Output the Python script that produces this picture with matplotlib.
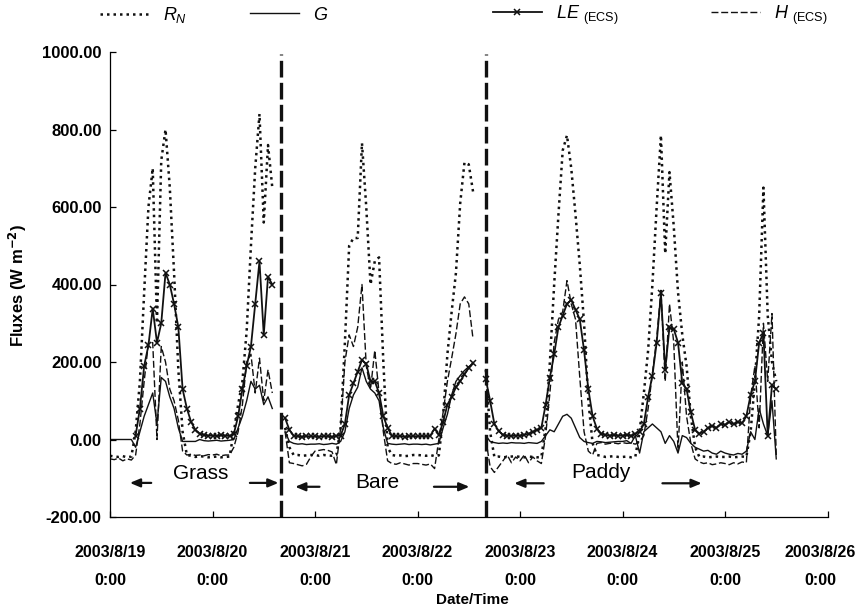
import numpy as np
import pandas as pd
import matplotlib
matplotlib.use("Agg")
import matplotlib.pyplot as plt
import matplotlib.dates as mdates
import matplotlib.transforms as mtransforms
from matplotlib.ticker import FuncFormatter

plt.rcParams['font.family'] = ['Liberation Sans', 'DejaVu Sans']
plt.rcParams['mathtext.fontset'] = 'custom'
plt.rcParams['mathtext.it'] = 'Liberation Sans:italic'
plt.rcParams['mathtext.rm'] = 'Liberation Sans'

nan = np.nan

# hourly fluxes (W m-2) from 2003/8/19 0:00, one row per day
rn = [-42,-44,-45,-43,-46,-44, 20,150,380,600,700,300,720,800,650,430,180,20, -40,-42,-45,-43,-44,-46,
      -45,-44,-46,-45,-44, 20,90,150,280,500,700,840,560,760,650, nan,nan, 30,-20,-40,-40,-42,-41,-40,
      -40,-42,-40,-41,-42,-40,30, 250,500,520,520,765,600,400,460,470,200,-20, -40,-42,-41,-43,-42,-40,
      -40,-41,-42,-40,-43,-41,60, 220,330,430,610,715,710,640, nan,nan, 180,20, -45,-44,-46,-45,-44,-43,
      -45,-46,-44,-45,-46,-45, 30,200,400,580,746,785,700,580,450,300,100,-10, -40,-42,-45,-44,-43,-45,
      -45,-44,-46,-45, 20,120,230,400,600,785,480,690,550,380,270,190,60,-20, -45,-44,-46,-45,-44,-45,
      -45,-44,-46,-45,-44,-45, 20,150,320,650,320,200,150]

g = [0,0,0,0,0,0, -20,20,60,90,120,40,160,150,110,80,30,-5, -5,-5,-5,0,-3,-4,
     -3,-2,-4,-3,-2, 0,30,60,100,150,130,140,90,110,80, nan,nan, 20,-5,-10,-12,-11,-13,-12,
     -12,-11,-13,-12,-10,-12,-5, 20,80,115,135,185,150,130,120,100,30,-10, -12,-13,-12,-11,-13,-12,
     -12,-13,-12,-14,-12,-10, 30,65,115,150,165,178,188,195, nan,nan, 10,-5, -8,-10,-9,-10,-8,-9,
     -9,-10,-8,-9,-10,-5, 10,25,20,40,60,65,55,30,5,-5,-8,-10, -5,-6,-8,-7,-6,-5,
     -5,-3,-10,10,-35,20,30,40,30,20,-10,10,-5,-35,10,5,-10,-20,-25,-30,-28,-35,-38,-30,
     -35,-38,-40,-36,-38,-30, 20,0,80,40,10,100,-50]

le = [nan,nan,nan,nan,nan,nan, 10,80,190,243,338,250,300,430,400,350,290,130,80,45,25,15,12,10,
      10,9,11,10,9, 15, 60,130,190,240,350,460,270,420,400, nan,nan, 55,25,10,8,7,9,8,
      8,7,9,8,7,9,10, 40,115,145,175,205,195,150,150,120,60,30,10, 8,9,7,8,9,
      8,9,8,10, 28, 12, 45,90,110,135,150,168,185,198, nan,nan, 155,100,40,22,12,10,9,10,
      10,12,15,20,25, 30, 90,160,220,290,320,350,360,335,310,230,130,60,28,15,12,10,12,10,
      10,12,10,15,20,40,110,165,250,377,180,290,285,250,145,130,70,25,15,20,30,35,30,40,
      38,45,40,45,42,60, 115,150,250,275,10,140,130]

h = [-50,-52,-48,-55,-50,-53, -40,40,150,250,250,0,240,200,130,100,50,-30, -40,-38,-41,-40,-42,-39,
     -40,-38,-42,-40,-40, -20, 20,90,200,220,120,210,100,180,120, nan,nan, 20,-60,-62,-65,-68,-64,-45,
     -30,-28,-26,-28,-32,-65, 30, 200,270,240,290,400,190,130,230,120,20,-55, -62,-64,-60,-63,-66,-62,
     -62,-64,-66,-63, -75, 0, 70,150,210,273,350,368,350,260, nan,nan, 0,-70, -85,-70,-55,-40,-60,-45,
     -55,-40,-60,-45,-55,-62, 10,120,250,310,330,410,350,310,160,20,-30,-40, -10,-8,-12,-10,-9,-11,
     -8,-10,-9,-12,-5,10,80,170,260,385,150,350,250,-30,200,60,-10,-50,-58,-62,-60,-65,-63,-60,
     -62,-65,-60,-63,-58,-60, 110,190,30,300,150,325,-40]

start = "2003-08-19 00:00"
site_changes = ["2003-08-20 16:00", "2003-08-22 16:00"]
sites = ["Grass", "Bare", "Paddy"]
# arrow spans (hours from start) and label positions for each site
site_label_hour = [21.3, 62.6, 115.0]
site_label_value = [-87, -110, -84]
arrow_left = [(10.3, 4.0), (49.7, 42.7), (102.2, 94.0)]
arrow_right = [(32.1, 40.1), (75.2, 84.8), (128.7, 139.2)]
arrow_value = [-112, -122, -113]

times = pd.date_range(start, periods=len(rn), freq="h")
t0 = pd.Timestamp(start)

fig = plt.figure(figsize=(8.57, 6.11), dpi=100)
ax = fig.add_axes([110/857, 94/611, 717.5/857, 465/611])

k = "#111111"
l_rn, = ax.plot(times, rn, color=k, lw=1.8, ls=(0, (1.0, 1.6)))
l_g, = ax.plot(times, g, color=k, lw=1.0)
l_le, = ax.plot(times, le, color=k, lw=1.3, marker="x", ms=5, mew=1.1)
l_h, = ax.plot(times, h, color=k, lw=1.0, ls=(0, (5, 2)))

for s in site_changes:
    ax.axvline(pd.Timestamp(s), ymin=0.0, ymax=0.995, color=k, lw=2.4, ls=(0, (5, 1.6)))

for name, hx, vy in zip(sites, site_label_hour, site_label_value):
    ax.text(t0 + pd.Timedelta(hours=hx), vy, name, fontsize=15, ha="center", va="center")
for (a, b), (c, d), vy in zip(arrow_left, arrow_right, arrow_value):
    for tail, head in ((a, b), (c, d)):
        ax.annotate("", xy=(t0 + pd.Timedelta(hours=head), vy),
                    xytext=(t0 + pd.Timedelta(hours=tail), vy),
                    arrowprops=dict(arrowstyle="-|>,head_length=0.6,head_width=0.25",
                                    color=k, lw=1.6))

ax.set_xlim(t0, t0 + pd.Timedelta(days=7))
ax.set_ylim(-200, 1000)
ax.set_yticks(np.arange(-200, 1001, 200))
ax.yaxis.set_major_formatter(FuncFormatter(lambda v, p: f"{v:.2f}"))
ax.xaxis.set_major_locator(mdates.DayLocator())

def fmt_date(x, pos):
    d = mdates.num2date(x)
    return f"{d.year}/{d.month}/{d.day}\n{d.hour}:{d.minute:02d}"

ax.xaxis.set_major_formatter(FuncFormatter(fmt_date))
for s in ["top", "right"]:
    ax.spines[s].set_visible(False)
for s in ["left", "bottom"]:
    ax.spines[s].set_linewidth(0.9)
ax.tick_params(direction="in", length=4, width=0.9)
ax.tick_params(axis="y", pad=6, labelsize=12)
ax.tick_params(axis="x", pad=20, labelsize=11.5)
for lab in ax.get_yticklabels():
    lab.set_fontweight("bold")
xlabels = ax.get_xticklabels()
for lab in xlabels:
    lab.set_fontweight("bold")
    lab.set_linespacing(2.1)
# keep the last date label inside the figure
shift = mtransforms.ScaledTranslation(-7/100, 0, fig.dpi_scale_trans)
xlabels[-1].set_transform(xlabels[-1].get_transform() + shift)

fig.text(18/857, 1 - 285/611, r"Fluxes (W m$^{\mathbf{-2}}$)", rotation=90,
         ha="center", va="center", fontsize=12, fontweight="bold")
fig.text(472/857, 1 - 600/611, "Date/Time", ha="center", va="center",
         fontsize=11, fontweight="bold")

entries = [(l_rn, r"$R_N$", 100), (l_g, r"$G$", 250),
           (l_le, r"$LE$ $_{\rm (ECS)}$", 493), (l_h, r"$H$ $_{\rm (ECS)}$", 711)]
for handle, label, x0 in entries:
    fig.legend(handles=[handle], labels=[label], loc="center left",
               bbox_to_anchor=(x0/857, 1 - 15/611), frameon=False, fontsize=13,
               handlelength=2.7, handletextpad=0.8, borderpad=0, borderaxespad=0)

fig.savefig("out.png", dpi=100)
